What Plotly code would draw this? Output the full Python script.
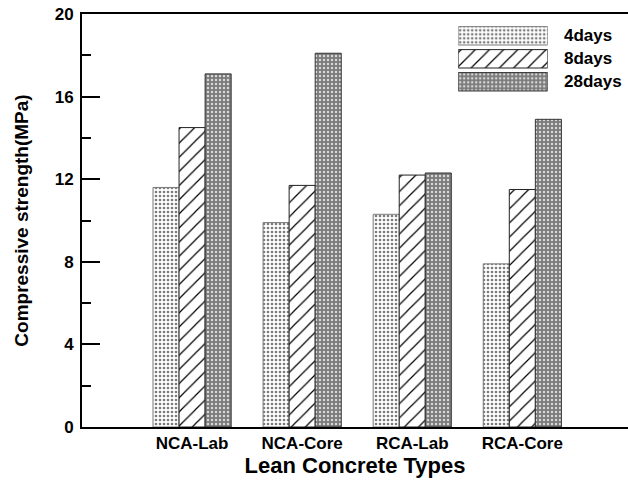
import plotly.graph_objects as go

# Compressive strength of lean concrete by curing age
categories = ["NCA-Lab", "NCA-Core", "RCA-Lab", "RCA-Core"]
ages = ["4days", "8days", "28days"]
strength_4d = [11.6, 9.9, 10.3, 7.9]
strength_8d = [14.5, 11.7, 12.2, 11.5]
strength_28d = [17.1, 18.1, 12.3, 14.9]
y_ticks = [0, 4, 8, 12, 16, 20]

FONT = "Liberation Sans, Arial, sans-serif"

styles = {
    "4days": dict(
        color="white",
        line=dict(color="#7a7a7a", width=1),
        pattern=dict(shape=".", fgcolor="#7a7a7a", bgcolor="white",
                     size=4, solidity=0.35, fillmode="replace"),
    ),
    "8days": dict(
        color="white",
        line=dict(color="#222222", width=1),
        pattern=dict(shape="/", fgcolor="black", bgcolor="white",
                     size=10, solidity=0.12, fillmode="replace"),
    ),
    "28days": dict(
        color="#8c8c8c",
        line=dict(color="#333333", width=1),
        pattern=dict(shape=".", fgcolor="#d8d8d8", bgcolor="#7a7a7a",
                     size=4, solidity=0.3, fillmode="replace"),
    ),
}

series = {"4days": strength_4d, "8days": strength_8d, "28days": strength_28d}
x_pos = list(range(len(categories)))

fig = go.Figure()
for name in ages:
    fig.add_trace(go.Bar(
        x=x_pos, y=series[name], name=name,
        marker=styles[name], showlegend=False,
    ))

# Legend swatches as wide patterned boxes on a small inset axis
for i, name in enumerate(ages):
    fig.add_trace(go.Bar(
        x=[1], y=[i], orientation="h", width=0.8,
        marker=styles[name], showlegend=False, hoverinfo="skip",
        xaxis="x2", yaxis="y2",
    ))

legend_y = [0.949, 0.893, 0.837]
for name, yy in zip(ages, legend_y):
    fig.add_annotation(
        text=name, xref="paper", yref="paper", x=0.880, y=yy,
        xanchor="left", yanchor="middle", showarrow=False,
        font=dict(family=FONT, size=17, color="black", weight="bold"),
    )

fig.update_layout(
    width=628, height=482,
    margin=dict(l=82, r=0, t=14, b=55),
    paper_bgcolor="white", plot_bgcolor="white",
    barmode="group", bargap=0.29, bargroupgap=0.0,
    font=dict(family=FONT, color="black"),
    xaxis=dict(
        range=[-1, 3.96], tickvals=x_pos, ticktext=categories,
        showgrid=False, zeroline=False, ticks="",
        showline=True, linecolor="black", linewidth=2, mirror=True,
        tickfont=dict(family=FONT, size=17, weight="bold"),
        title=dict(text="Lean Concrete Types", standoff=2,
                   font=dict(family=FONT, size=22, weight="bold")),
    ),
    yaxis=dict(
        range=[0, 20], tickmode="array", tickvals=y_ticks,
        showgrid=False, zeroline=False,
        showline=True, linecolor="black", linewidth=2,
        ticks="inside", ticklen=18, tickwidth=2, tickcolor="black",
        ticklabelstandoff=3,
        minor=dict(ticks="inside", ticklen=9, tickwidth=2,
                   tickcolor="black", tickmode="linear", tick0=0, dtick=2,
                   showgrid=False),
        tickfont=dict(family=FONT, size=17, weight="bold"),
        title=dict(text="Compressive strength(MPa)", standoff=21,
                   font=dict(family=FONT, size=19, weight="bold")),
    ),
    xaxis2=dict(domain=[0.689, 0.853], anchor="y2", range=[0, 1],
                visible=False, fixedrange=True),
    yaxis2=dict(domain=[0.808, 0.975], anchor="x2", range=[2.5, -0.5],
                visible=False, fixedrange=True),
)

fig.write_html("out.html")
